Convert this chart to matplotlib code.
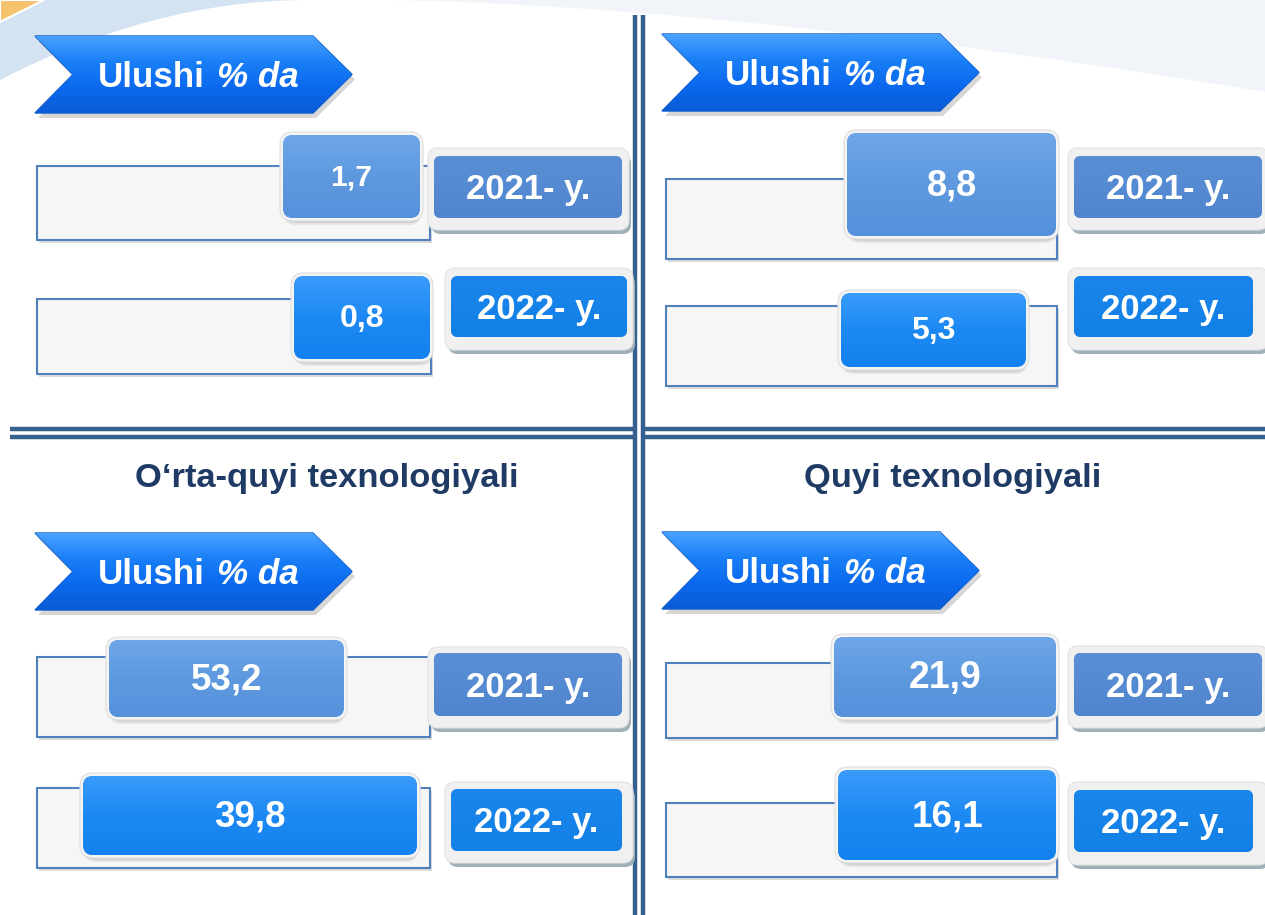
import numpy as np
import matplotlib
matplotlib.use('Agg')
import matplotlib.pyplot as plt
from matplotlib.patches import Polygon, FancyBboxPatch, Rectangle
from matplotlib.colors import LinearSegmentedColormap

# ---- data ----
panel_titles = ['', '', 'O\u2018rta-quyi texnologiyali', 'Quyi texnologiyali']
share_2021 = [1.7, 8.8, 53.2, 21.9]
share_2022 = [0.8, 5.3, 39.8, 16.1]
year_labels = ['2021- y.', '2022- y.']
badge_word = 'Ulushi'
badge_unit = '% da'

# ---- layout (pixel coords, y down) ----
layout = [
    dict(arrow=(35, 36), title=None,
         rect=[(37, 166, 430, 240), (37, 299, 431, 374)],
         val=[(283, 135, 420, 218), (294, 276, 430, 359)],
         yo=[(428, 148, 629, 230), (445, 268, 633, 350)],
         yi=[(434, 156, 622, 218), (451, 276, 627, 337)],
         fs=[21.6, 23]),
    dict(arrow=(662, 34), title=None,
         rect=[(666, 179, 1057, 259), (666, 306, 1057, 386)],
         val=[(847, 133, 1056, 236), (841, 293, 1026, 367)],
         yo=[(1068, 148, 1268, 230), (1068, 268, 1268, 350)],
         yi=[(1074, 156, 1262, 218), (1074, 276, 1253, 337)],
         fs=[26, 23]),
    dict(arrow=(35, 533), title=(327, 475),
         rect=[(37, 657, 430, 737), (37, 788, 430, 868)],
         val=[(109, 640, 344, 717), (83, 776, 417, 855)],
         yo=[(428, 647, 629, 728), (445, 782, 633, 863)],
         yi=[(434, 653, 622, 716), (451, 789, 622, 851)],
         fs=[26.5, 26.5]),
    dict(arrow=(662, 532), title=(953, 475),
         rect=[(666, 663, 1057, 738), (666, 803, 1057, 877)],
         val=[(834, 637, 1056, 717), (838, 770, 1056, 860)],
         yo=[(1068, 646, 1268, 728), (1068, 782, 1268, 865)],
         yi=[(1074, 653, 1262, 716), (1074, 790, 1253, 852)],
         fs=[27, 26.5]),
]

W, H = 1265, 915
FONT = ['Liberation Sans', 'DejaVu Sans']
PX = 100 / 72.0  # px per pt

fig = plt.figure(figsize=(W / 100, H / 100), dpi=100)
ax = fig.add_axes([0, 0, 1, 1])
ax.set_xlim(0, W)
ax.set_ylim(H, 0)
ax.axis('off')


def grad(patch, colors, ext, z):
    cmap = LinearSegmentedColormap.from_list('g', colors)
    x0, y0, x1, y1 = ext
    im = ax.imshow(np.linspace(0, 1, 256).reshape(-1, 1), cmap=cmap,
                   extent=(x0, x1, y1, y0), origin='upper', aspect='auto',
                   zorder=z, interpolation='bilinear')
    im.set_clip_path(patch)


def rbox(x0, y0, x1, y1, r, **kw):
    return FancyBboxPatch((x0, y0), x1 - x0, y1 - y0,
                          boxstyle='round,pad=0,rounding_size=%g' % r, **kw)


def label(x, y, s, size, **kw):
    # baseline placed so that cap height is centred on y
    ax.text(x, y + 0.716 * size * PX / 2, s, fontsize=size, color='white',
            fontweight='bold', family=FONT, ha='center', va='baseline', **kw)


# ---- decorative top swoosh ----
xs = np.linspace(0, 310, 60)
lower = 80 * (1 - xs / 310) ** 2
ax.add_patch(Polygon(np.r_[[[0, 0], [310, 0]], np.c_[xs[::-1], lower[::-1]]],
                     closed=True, fc='#d3e3f2', ec='none', zorder=0))
xs2 = np.linspace(380, W, 80)
low2 = 92 * ((xs2 - 380) / (W - 380)) ** 1.6
ax.add_patch(Polygon(np.r_[[[300, 0], [W, 0]], np.c_[xs2[::-1], low2[::-1]]],
                     closed=True, fc='#f1f5f9', ec='none', zorder=0))
ax.add_patch(Polygon([[0, 0], [44, 0], [0, 22]], closed=True,
                     fc='#f5c26e', ec='white', lw=1.5, zorder=0.5))

# ---- dividers ----
div = '#36608f'
for xv in (635, 643):
    ax.plot([xv, xv], [15, H], color=div, lw=3.2, solid_capstyle='butt', zorder=1)
for yh in (428.5, 436.5):
    ax.plot([10, 637], [yh, yh], color=div, lw=3.2, solid_capstyle='butt', zorder=1)
    ax.plot([641, W], [yh, yh], color=div, lw=3.2, solid_capstyle='butt', zorder=1)

# ---- panels ----
for p, L in enumerate(layout):
    # title
    if L['title'] is not None and panel_titles[p]:
        tx, ty = L['title']
        ax.text(tx, ty + 0.716 * 24.8 * PX / 2, panel_titles[p], fontsize=24.8,
                color='#1f3a64', fontweight='bold', family=FONT,
                ha='center', va='baseline', zorder=5)

    # arrow badge
    ax0, ay0 = L['arrow']
    aw, ah, notch, straight = 317, 77, 38, 278
    pts = np.array([[ax0, ay0], [ax0 + straight, ay0], [ax0 + aw, ay0 + ah / 2],
                    [ax0 + straight, ay0 + ah], [ax0, ay0 + ah],
                    [ax0 + notch, ay0 + ah / 2]])
    ax.add_patch(Polygon(pts + [3, 5], closed=True, fc='#8c8c8c', alpha=0.35,
                         ec='none', zorder=2))
    arrow = Polygon(pts, closed=True, fc='#0f6ef2', ec='#0a58c8', lw=1, zorder=3)
    ax.add_patch(arrow)
    grad(arrow, ['#4aa2ff', '#1a7ff7', '#0b69ee', '#0a5bd6'],
         (ax0, ay0, ax0 + aw, ay0 + ah), 3.1)
    cy = ay0 + ah / 2
    ax.text(ax0 + 63, cy + 0.716 * 25.2 * PX / 2, badge_word, fontsize=25.2,
            color='white', fontweight='bold', family=FONT, ha='left',
            va='baseline', zorder=4)
    ax.text(ax0 + 182, cy + 0.716 * 25.2 * PX / 2, badge_unit, fontsize=25.2,
            color='white', fontweight='bold', fontstyle='italic', family=FONT,
            ha='left', va='baseline', zorder=4)

    vals = [share_2021[p], share_2022[p]]
    for r in range(2):
        # background strip
        x0, y0, x1, y1 = L['rect'][r]
        ax.add_patch(Rectangle((x0 + 2, y0 + 3), x1 - x0, y1 - y0, fc='#9a9a9a',
                               alpha=0.35, ec='none', zorder=2))
        ax.add_patch(Rectangle((x0, y0), x1 - x0, y1 - y0, fc='#f6f6f6',
                               ec='#4f81bd', lw=1.5, zorder=2.2))

        # value box
        x0, y0, x1, y1 = L['val'][r]
        for k, a in enumerate([0.12, 0.18, 0.25]):
            off = 7 - 2 * k
            ax.add_patch(rbox(x0 + 1, y0 + off, x1 + 1, y1 + off, 12,
                              fc='#6b6b6b', ec='none', alpha=a, zorder=2.5))
        ax.add_patch(rbox(x0 - 3, y0 - 3, x1 + 3, y1 + 3, 13, fc='#f4f4f4',
                          ec='#dedede', lw=0.8, zorder=2.7))
        box = rbox(x0, y0, x1, y1, 10, fc='#5b97de', ec='none', zorder=2.8)
        ax.add_patch(box)
        cols = ['#6ea6e8', '#5e99df', '#5692dc'] if r == 0 else ['#3a9cfb', '#1c89f3', '#1482ee']
        grad(box, cols, (x0, y0, x1, y1), 2.9)
        label((x0 + x1) / 2, (y0 + y1) / 2 - 2,
              ('%.1f' % vals[r]).replace('.', ','), L['fs'][r], zorder=4)

        # year box
        x0, y0, x1, y1 = L['yo'][r]
        ax.add_patch(rbox(x0 + 3, y0 + 6, x1 + 2, y1 + 4, 10, fc='#9fb0b9',
                          ec='none', zorder=2.5))
        ax.add_patch(rbox(x0, y0, x1, y1, 10, fc='#f0f0f0', ec='#e2e2e2',
                          lw=0.8, zorder=2.6))
        x0, y0, x1, y1 = L['yi'][r]
        yb = rbox(x0, y0, x1, y1, 7, fc='#5389d1', ec='none', zorder=2.8)
        ax.add_patch(yb)
        cols = ['#5a8fd5', '#5086cf'] if r == 0 else ['#1a86ec', '#1380e6']
        grad(yb, cols, (x0, y0, x1, y1), 2.9)
        label((x0 + x1) / 2, (y0 + y1) / 2, year_labels[r], 24.9, zorder=4)

ax.set_xlim(0, W)
ax.set_ylim(H, 0)
fig.savefig('out.png', dpi=100, facecolor='white')
